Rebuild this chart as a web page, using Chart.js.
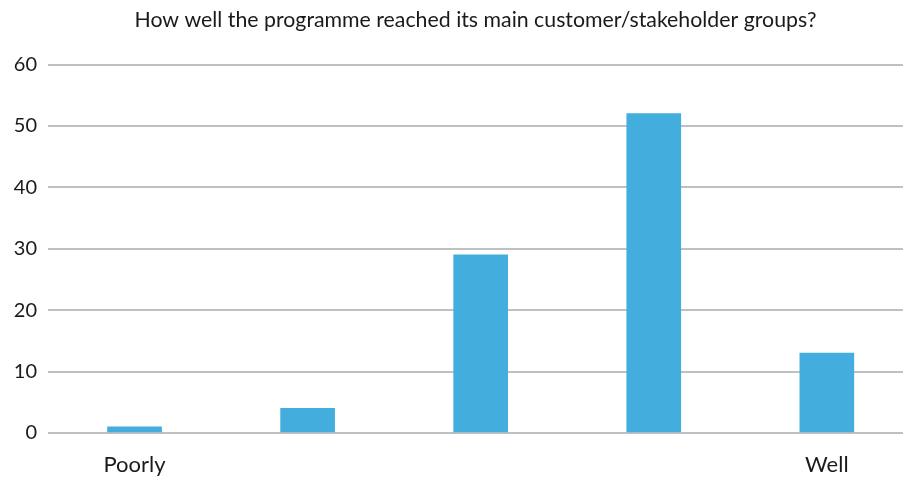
<!DOCTYPE html>
<html>
<head>
<meta charset="utf-8">
<script src="https://cdn.jsdelivr.net/npm/chart.js@4/dist/chart.umd.min.js"></script>
<style>
  html, body { margin: 0; padding: 0; background: #fff; overflow: hidden; }
  #wrap { width: 903px; height: 478px; position: relative; }
</style>
</head>
<body>
<div id="wrap"><canvas id="chart"></canvas></div>
<script>
// chart data
const titleText = "How well the programme reached its main customer/stakeholder groups?";
const positions = [0, 1, 2, 3, 4];
const values = [1, 4, 29, 52, 13];
const xTickLabels = ["Poorly", "", "", "", "Well"];
const yTicks = [0, 10, 20, 30, 40, 50, 60];

document.addEventListener("DOMContentLoaded", function () {
    const ctx = document.getElementById("chart").getContext("2d");
    const fontFamily = "Lato, 'Open Sans', sans-serif";

    new Chart(ctx, {
        type: "bar",
        data: {
            datasets: [{
                data: positions.map((p, i) => ({ x: p, y: values[i] })),
                backgroundColor: "#43aedd",
                borderWidth: 0,
                barThickness: 54
            }]
        },
        options: {
            responsive: true,
            maintainAspectRatio: false,
            animation: false,
            layout: { padding: 0 },
            plugins: {
                legend: { display: false },
                tooltip: { enabled: false },
                title: {
                    display: true,
                    fullSize: false,
                    text: titleText,
                    color: "#1a1a1a",
                    font: { family: fontFamily, size: 21.3, weight: "normal" },
                    padding: { top: 7, bottom: 32 }
                }
            },
            scales: {
                x: {
                    type: "linear",
                    offset: false,
                    min: -0.5,
                    max: 4.44,
                    grid: { display: false, offset: false },
                    border: { display: false },
                    afterBuildTicks: axis => { axis.ticks = positions.map(v => ({ value: v })); },
                    afterFit: axis => {
                        axis.height = 45;
                        axis.paddingLeft = 0;
                        axis.paddingRight = 0;
                    },
                    ticks: {
                        padding: 11,
                        color: "#1a1a1a",
                        font: { family: fontFamily, size: 22 },
                        maxRotation: 0,
                        autoSkip: false,
                        callback: (v, i) => xTickLabels[i]
                    }
                },
                y: {
                    min: 0,
                    max: 60,
                    afterBuildTicks: axis => { axis.ticks = yTicks.map(v => ({ value: v })); },
                    afterFit: axis => { axis.width = 48; },
                    grid: { color: "#c0c0c2", lineWidth: 2, drawTicks: false },
                    border: { display: false },
                    ticks: {
                        padding: 11,
                        color: "#1a1a1a",
                        font: { family: fontFamily, size: 20 }
                    }
                }
            }
        }
    });
});
</script>
</body>
</html>
